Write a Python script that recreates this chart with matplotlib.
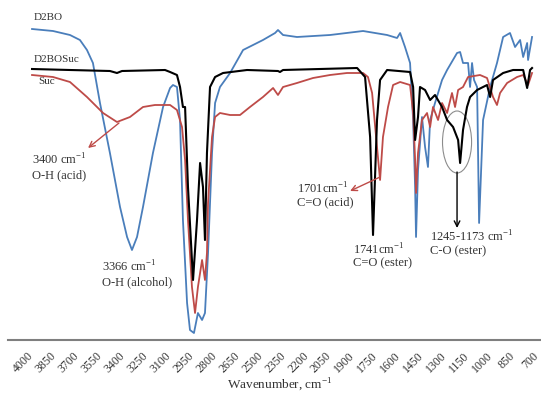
import matplotlib
matplotlib.use("Agg")
import matplotlib.pyplot as plt
from matplotlib.patches import Ellipse

plt.rcParams['font.family'] = ['Liberation Serif', 'DejaVu Serif']
plt.rcParams['mathtext.fontset'] = 'custom'
plt.rcParams['mathtext.rm'] = 'Liberation Serif'

# FTIR spectra, transmittance (a.u.)
d2bo_wn = [3967, 3830, 3719, 3654, 3608, 3569, 3523, 3458, 3392, 3346, 3314, 3281, 3242, 3177,
           3111, 3065, 3046, 3020, 3000, 2981, 2954, 2935, 2909, 2883, 2856, 2837, 2817, 2791,
           2771, 2739, 2673, 2588, 2458, 2379, 2360, 2327, 2236, 2020, 1804, 1647, 1582, 1562,
           1530, 1497, 1477, 1464, 1458, 1445, 1419, 1399, 1380, 1366, 1334, 1288, 1255, 1190,
           1170, 1151, 1118, 1105, 1092, 1079, 1059, 1046, 1020, 974, 929, 889, 844, 811, 778,
           758, 732, 726, 700]
d2bo_t = [311, 309, 305, 300, 290, 277, 237, 187, 133, 103, 90, 103, 133, 187,
          233, 252, 255, 253, 220, 120, 37, 10, 7, 27, 20, 27, 87, 187,
          237, 253, 267, 290, 300, 307, 310, 305, 303, 305, 309, 305, 302, 307,
          293, 277, 220, 153, 103, 170, 223, 193, 173, 220, 237, 260, 270, 287,
          288, 277, 277, 253, 277, 260, 253, 117, 220, 253, 277, 303, 307, 293, 300,
          283, 297, 280, 303]

d2bosuc_wn = [3967, 3719, 3458, 3412, 3379, 3098, 3065, 3020, 3000, 2981, 2967, 2948, 2915, 2889,
              2869, 2850, 2837, 2824, 2804, 2771, 2719, 2562, 2360, 2347, 2327, 1843, 1791, 1758,
              1739, 1713, 1693, 1647, 1497, 1477, 1464, 1445, 1432, 1399, 1366, 1334, 1288, 1255,
              1216, 1183, 1170, 1151, 1125, 1105, 1059, 994, 974, 955, 889, 824, 758, 732, 713, 700]
d2bosuc_t = [271, 270, 269, 267, 269, 270, 268, 265, 253, 233, 233, 153, 60, 120,
             177, 153, 100, 187, 253, 263, 267, 270, 269, 268, 270, 272, 263, 203,
             105, 220, 260, 270, 268, 253, 200, 223, 253, 250, 240, 245, 233, 220,
             213, 200, 177, 210, 233, 243, 250, 255, 243, 260, 267, 270, 270, 252, 270, 272]

suc_wn = [3967, 3830, 3719, 3608, 3503, 3412, 3327, 3242, 3164, 3065, 3020, 2987, 2967, 2948,
          2922, 2902, 2883, 2856, 2837, 2824, 2817, 2791, 2771, 2739, 2673, 2608, 2543, 2458,
          2392, 2360, 2327, 2236, 2131, 2020, 1909, 1804, 1772, 1745, 1713, 1693, 1674, 1641,
          1608, 1562, 1497, 1477, 1464, 1458, 1445, 1419, 1386, 1366, 1347, 1314, 1288, 1255,
          1223, 1203, 1183, 1151, 1118, 1040, 994, 955, 929, 909, 863, 798, 758, 726, 700]
suc_t = [265, 263, 258, 243, 227, 218, 223, 233, 235, 235, 230, 213, 180, 120,
         53, 27, 53, 80, 60, 87, 137, 203, 223, 227, 225, 225, 233, 243,
         252, 245, 253, 257, 262, 265, 267, 267, 263, 247, 193, 160, 203, 233,
         255, 258, 255, 227, 180, 147, 187, 220, 227, 213, 233, 220, 237, 227,
         247, 233, 250, 253, 263, 265, 262, 243, 235, 247, 257, 263, 265, 255, 267]

tick_values = list(range(4000, 699, -150))

blue = '#4a7ebb'
red = '#be4b48'
text_c = '#333333'

fig = plt.figure(figsize=(5.41, 3.94), dpi=100)
ax = fig.add_axes([8 / 541, 54 / 394, 532 / 541, 340 / 394])

ax.plot(d2bo_wn, d2bo_t, color=blue, lw=1.3)
ax.plot(suc_wn, suc_t, color=red, lw=1.3)
ax.plot(d2bosuc_wn, d2bosuc_t, color='black', lw=1.5)

ax.set_xlim(4124, 648)
ax.set_ylim(0, 340)

for s in ['top', 'left', 'right']:
    ax.spines[s].set_visible(False)
ax.spines['bottom'].set_color('#7f7f7f')
ax.spines['bottom'].set_linewidth(1.5)
ax.set_yticks([])
ax.set_xticks(tick_values)
ax.set_xticklabels([str(v) for v in tick_values], rotation=45, ha='right', va='top',
                   rotation_mode='anchor', fontsize=8.5, color=text_c)
ax.tick_params(axis='x', length=0, pad=7)
ax.set_xlabel(r'Wavenumber, cm$^{-1}$', fontsize=9.5, color=text_c)
ax.xaxis.set_label_coords(0.51, -0.105)

# series names
ax.text(3954, 322, 'D2BO', fontsize=8, color=text_c, va='center')
ax.text(3954, 281, 'D2BOSuc', fontsize=8, color=text_c, va='center')
ax.text(3928, 258, 'Suc', fontsize=8, color=text_c, va='center')

# annotations
fs = 9
ax.text(3967, 180, r'3400 cm$^{-1}$', fontsize=fs, color=text_c, va='center')
ax.text(3967, 165, 'O-H (acid)', fontsize=fs, color=text_c, va='center')
ax.annotate('', xy=(3601, 192), xytext=(3399, 217),
            arrowprops=dict(arrowstyle='->', color=red, lw=1.0, shrinkA=0, shrinkB=0))

ax.text(3510, 73, r'3366 cm$^{-1}$', fontsize=fs, color=text_c, va='center')
ax.text(3510, 58, 'O-H (alcohol)', fontsize=fs, color=text_c, va='center')

ax.text(2236, 151, r'1701cm$^{-1}$', fontsize=fs, color=text_c, va='center')
ax.text(2236, 138, 'C=O (acid)', fontsize=fs, color=text_c, va='center')
ax.annotate('', xy=(1889, 149), xytext=(1693, 163),
            arrowprops=dict(arrowstyle='->', color=red, lw=1.0, shrinkA=0, shrinkB=0))

ax.text(1870, 90, r'1741cm$^{-1}$', fontsize=fs, color=text_c, va='center')
ax.text(1870, 77, 'C=O (ester)', fontsize=fs, color=text_c, va='center')

ax.text(1366, 103, r'1245-1173 cm$^{-1}$', fontsize=fs, color=text_c, va='center')
ax.text(1366, 89, 'C-O (ester)', fontsize=fs, color=text_c, va='center')
ax.add_patch(Ellipse((1190, 198), 190, 62, fill=False, edgecolor='#8c8c8c', lw=0.8))
ax.annotate('', xy=(1190, 112), xytext=(1190, 168),
            arrowprops=dict(arrowstyle='->', color='black', lw=1.0, shrinkA=0, shrinkB=0))

fig.savefig('out.png', dpi=100)
